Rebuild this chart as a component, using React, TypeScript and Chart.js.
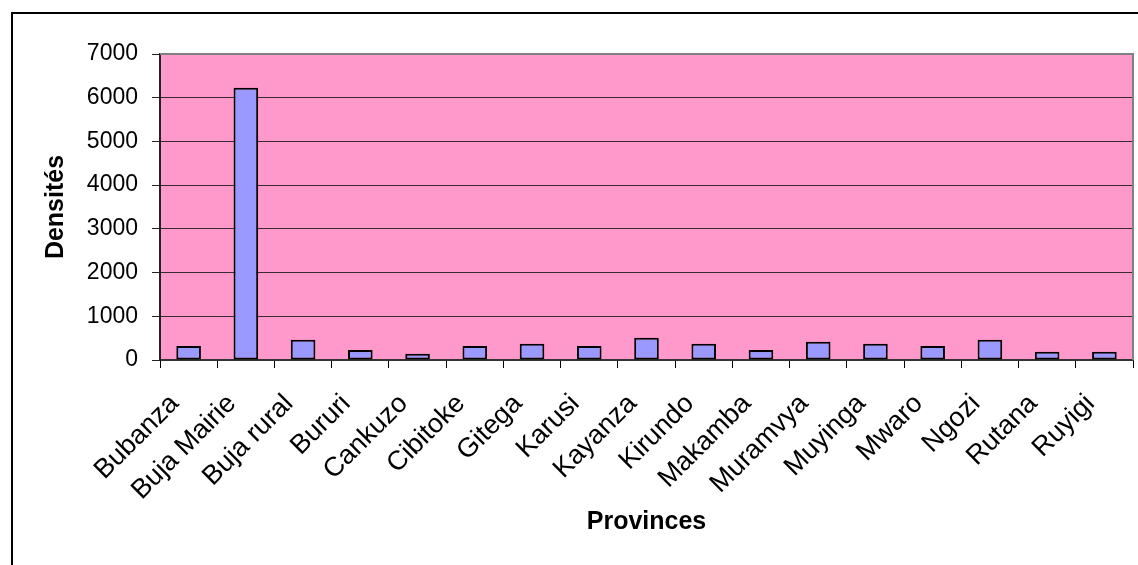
import React, { useEffect, useRef } from "react";
import { Chart, registerables } from "chart.js";

Chart.register(...registerables);

// Population density by province
const provinces = [
  "Bubanza",
  "Buja Mairie",
  "Buja rural",
  "Bururi",
  "Cankuzo",
  "Cibitoke",
  "Gitega",
  "Karusi",
  "Kayanza",
  "Kirundo",
  "Makamba",
  "Muramvya",
  "Muyinga",
  "Mwaro",
  "Ngozi",
  "Rutana",
  "Ruyigi",
];

const densites = [
  320, 6230, 465, 229, 145, 320, 373, 320, 510, 373, 229, 419, 373, 320, 465, 190, 190,
];

const yTicks = [0, 1000, 2000, 3000, 4000, 5000, 6000, 7000];

const WIDTH = 1138;
const HEIGHT = 565;
const FONT = "'Liberation Sans', Arial, sans-serif";

// Page frame, pink plot background and grey plot border
const framePlugin = {
  id: "frame",
  beforeDraw(chart: any) {
    const { ctx, chartArea: a } = chart;
    ctx.save();
    ctx.fillStyle = "#ffffff";
    ctx.fillRect(0, 0, chart.width, chart.height);
    ctx.strokeStyle = "#000000";
    ctx.lineWidth = 2;
    ctx.beginPath();
    ctx.moveTo(12, chart.height);
    ctx.lineTo(12, 13);
    ctx.lineTo(chart.width, 13);
    ctx.stroke();
    ctx.fillStyle = "#FF99CC";
    ctx.fillRect(a.left, a.top, a.right - a.left, a.bottom - a.top);
    ctx.restore();
  },
  beforeDatasetsDraw(chart: any) {
    const { ctx, chartArea: a } = chart;
    ctx.save();
    ctx.strokeStyle = "#808080";
    ctx.lineWidth = 2;
    ctx.beginPath();
    ctx.moveTo(a.left, a.top);
    ctx.lineTo(a.right, a.top);
    ctx.lineTo(a.right, a.bottom);
    ctx.stroke();
    ctx.restore();
  },
};

export default function App() {
  const canvasRef = useRef<HTMLCanvasElement | null>(null);

  useEffect(() => {
    if (!canvasRef.current) return;
    const chart = new Chart(canvasRef.current, {
      type: "bar",
      data: {
        labels: provinces,
        datasets: [
          {
            label: "Densités",
            data: densites,
            backgroundColor: "#9999FF",
            borderColor: "#000000",
            borderWidth: 2,
            borderSkipped: false,
            barPercentage: 0.43,
            categoryPercentage: 1,
          },
        ],
      },
      options: {
        responsive: false,
        animation: false,
        devicePixelRatio: 1,
        layout: { padding: { left: 0, top: 54, right: 5, bottom: 0 } },
        plugins: {
          legend: { display: false },
          tooltip: { enabled: false },
        },
        scales: {
          x: {
            grid: {
              offset: true,
              drawOnChartArea: false,
              color: "#000000",
              tickLength: 8,
              lineWidth: 1,
            },
            border: { color: "#333333", width: 2 },
            ticks: {
              autoSkip: false,
              maxRotation: 45,
              minRotation: 45,
              padding: 20,
              labelOffset: -14,
              color: "#000000",
              font: { family: FONT, size: 27 },
            },
            title: {
              display: true,
              text: "Provinces",
              color: "#000000",
              font: { family: FONT, size: 25, weight: "bold" },
              padding: { top: 0, bottom: 28 },
            },
            afterFit(scale: any) {
              scale.height = HEIGHT - 360;
              scale.paddingLeft = 0;
              scale.paddingRight = 0;
            },
          },
          y: {
            min: 0,
            max: 7000,
            afterBuildTicks(scale: any) {
              scale.ticks = yTicks.map((v) => ({ value: v }));
            },
            grid: {
              color: (c: any) => (c.tick && c.tick.value === 7000 ? "rgba(0,0,0,0)" : "#3a2a32"),
              tickColor: "#222222",
              tickLength: 8,
              lineWidth: 1,
            },
            border: { color: "#222222", width: 2 },
            ticks: {
              padding: 14,
              color: "#000000",
              font: { family: FONT, size: 23 },
              callback: (v: any) => String(v),
            },
            title: {
              display: true,
              text: "Densités",
              color: "#000000",
              font: { family: FONT, size: 25, weight: "bold" },
              padding: { top: 41, bottom: 0 },
            },
            afterFit(scale: any) {
              scale.width = 160;
            },
          },
        },
      },
      plugins: [framePlugin],
    });
    return () => chart.destroy();
  }, []);

  return (
    <div style={{ position: "absolute", left: 0, top: 0, width: WIDTH, height: HEIGHT }}>
      <canvas ref={canvasRef} width={WIDTH} height={HEIGHT} />
    </div>
  );
}
